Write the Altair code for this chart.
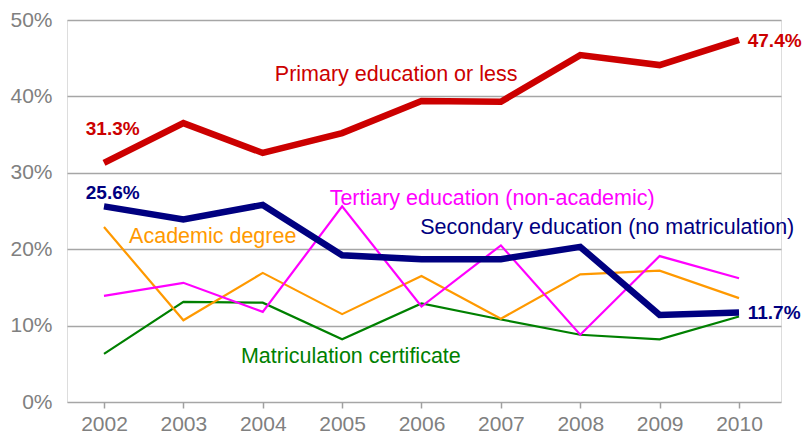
import altair as alt
import pandas as pd

years = [2002, 2003, 2004, 2005, 2006, 2007, 2008, 2009, 2010]
primary = [31.3, 36.5, 32.6, 35.2, 39.4, 39.3, 45.4, 44.1, 47.4]
secondary = [25.6, 23.9, 25.8, 19.2, 18.7, 18.7, 20.3, 11.4, 11.7]
tertiary = [13.9, 15.6, 11.8, 25.6, 12.5, 20.5, 8.8, 19.1, 16.2]
academic = [22.9, 10.7, 16.9, 11.5, 16.5, 10.9, 16.7, 17.2, 13.6]
matric = [6.3, 13.1, 13.0, 8.2, 12.9, 10.8, 8.8, 8.2, 11.2]

series_names = ["Matriculation certificate", "Academic degree",
                "Tertiary education (non-academic)",
                "Secondary education (no matriculation)",
                "Primary education or less"]
series_values = [matric, academic, tertiary, secondary, primary]
series_colors = ["#008000", "#FF9900", "#FF00FF", "#000080", "#CC0000"]
thick = ["Secondary education (no matriculation)", "Primary education or less"]

rows = []
for name, vals in zip(series_names, series_values):
    for yr, v in zip(years, vals):
        rows.append({"year": yr, "value": v, "series": name})
df = pd.DataFrame(rows)

x_scale = alt.Scale(domain=[2001.534, 2010.529], nice=False, zero=False)
y_scale = alt.Scale(domain=[0, 50], nice=False)
color_scale = alt.Scale(domain=series_names, range=series_colors)

x_axis = alt.Axis(values=years, format="d", title=None, grid=False, domain=False,
                  ticks=True, tickColor="#A0A0A0", tickSize=6, tickWidth=1.5,
                  labelColor="#808080", labelFontSize=21, labelFont="Liberation Sans",
                  labelPadding=5)
y_axis = alt.Axis(values=[0, 10, 20, 30, 40, 50], labelExpr="datum.value + '%'",
                  title=None, grid=True, gridColor="#A6A6A6", gridWidth=1.5,
                  domain=False, ticks=False, labelColor="#808080", labelFontSize=21,
                  labelFont="Liberation Sans", labelPadding=15)

base = alt.Chart(df).encode(
    x=alt.X("year:Q", scale=x_scale, axis=x_axis),
    y=alt.Y("value:Q", scale=y_scale, axis=y_axis),
    color=alt.Color("series:N", scale=color_scale, legend=None),
    detail="series:N",
)

thin_lines = base.transform_filter(
    alt.FieldOneOfPredicate(field="series", oneOf=series_names[:3])
).mark_line(strokeWidth=2.2)
thick_lines = base.transform_filter(
    alt.FieldOneOfPredicate(field="series", oneOf=thick)
).mark_line(strokeWidth=6.5)

# Annotations (data coordinates)
ann_text = ["Primary education or less", "Tertiary education (non-academic)",
            "Secondary education (no matriculation)", "Academic degree",
            "Matriculation certificate"]
ann_x = [2005.68, 2006.89, 2008.34, 2003.37, 2005.11]
ann_y = [42.8, 26.6, 22.8, 21.6, 5.9]
ann_color = ["#CC0000", "#FF00FF", "#000080", "#FF9900", "#008000"]
ann_df = pd.DataFrame({"text": ann_text, "x": ann_x, "y": ann_y, "c": ann_color})

val_text = ["31.3%", "25.6%"]
val_x = [2002.11, 2002.11]
val_y = [35.7, 27.4]
val_color = ["#CC0000", "#000080"]
val_df = pd.DataFrame({"text": val_text, "x": val_x, "y": val_y, "c": val_color})

end_text = ["47.4%", "11.7%"]
end_x = [2010.11, 2010.11]
end_y = [47.3, 11.6]
end_color = ["#CC0000", "#000080"]
end_df = pd.DataFrame({"text": end_text, "x": end_x, "y": end_y, "c": end_color})


def text_layer(d, size, **kw):
    return alt.Chart(d).mark_text(baseline="middle", font="Liberation Sans",
                                  fontSize=size, **kw).encode(
        x=alt.X("x:Q", scale=x_scale),
        y=alt.Y("y:Q", scale=y_scale),
        text="text:N",
        color=alt.Color("c:N", scale=None),
    )


ann = text_layer(ann_df, 21.5, align="center")
vals = text_layer(val_df, 19, align="center", fontWeight="bold")
ends = text_layer(end_df, 19, align="left", fontWeight="bold")

chart = alt.layer(thin_lines, thick_lines, ann, vals, ends).properties(
    width=714, height=382,
    autosize=alt.AutoSizeParams(type="none"),
    padding={"left": 59, "top": 12, "right": 21, "bottom": 31},
).configure_view(stroke=None).configure(background="white")

chart.save("out.html", embed_options={"renderer": "svg", "actions": False})
